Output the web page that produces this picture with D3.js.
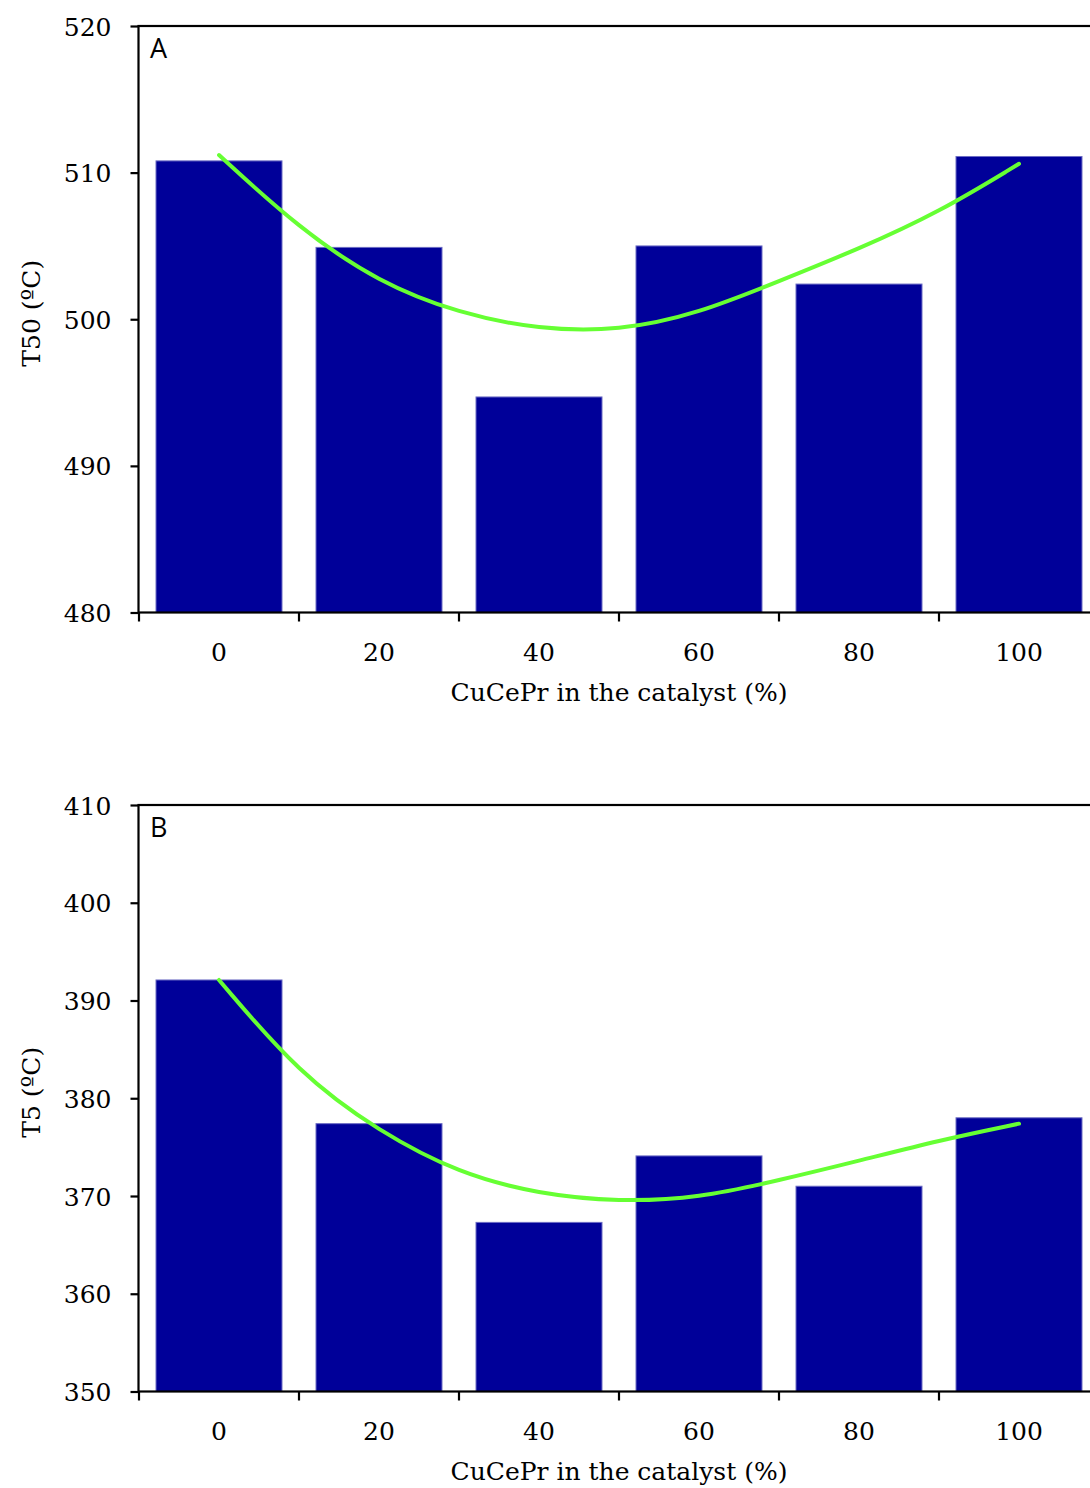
<!DOCTYPE html>
<html>
<head>
<meta charset="utf-8">
<script src="https://cdn.jsdelivr.net/npm/d3@7"></script>
<style>
  body { margin: 0; background: #fff; }
  svg text { fill: #000; }
  .tick-label { font-family: "DejaVu Serif", serif; font-size: 25px; }
  .axis-title { font-family: "DejaVu Serif", serif; font-size: 25px; }
  .panel-letter { font-family: "Open Sans", "Liberation Sans", sans-serif; font-size: 27px; }
</style>
</head>
<body>
<div id="chart"></div>
<script>
// Data
const categories = ["0", "20", "40", "60", "80", "100"];
const t50Values = [510.8, 504.9, 494.7, 505.0, 502.4, 511.1];
const t5Values = [392.1, 377.4, 367.3, 374.1, 371.0, 378.0];

// trend lines (polynomial fit in the original), read at every 10 %
const trendX = [0, 10, 20, 30, 40, 50, 60, 70, 80, 90, 100];
const t50Trend = [511.2, 506.2, 502.5, 500.4, 499.3, 499.2, 500.4, 502.6, 504.8, 507.3, 510.6];
const t5Trend = [392.1, 382.5, 376.6, 372.3, 370.2, 369.4, 369.8, 371.6, 373.6, 375.7, 377.4];

const t50Ticks = [480, 490, 500, 510, 520];
const t5Ticks = [350, 360, 370, 380, 390, 400, 410];

// Layout
const width = 1090, height = 1488;
const plotLeft = 139, plotRight = 1099;
const plotHeight = 586.5;

const svg = d3.select("#chart")
    .append("svg")
    .attr("width", width)
    .attr("height", height);

const x = d3.scaleBand()
    .domain(categories)
    .range([plotLeft, plotRight])
    .paddingInner(0.2125)
    .paddingOuter(0.10625);

// maps the 0-100 % scale onto the band centres for the trend line
const xTrend = d3.scaleLinear()
    .domain([0, 100])
    .range([x("0") + x.bandwidth() / 2, x("100") + x.bandwidth() / 2]);

function drawPanel(top, values, trend, ticks, yTitle, letter) {
    const g = svg.append("g");

    const y = d3.scaleLinear()
        .domain([ticks[0], ticks[ticks.length - 1]])
        .range([top + plotHeight, top]);

    // bars
    g.selectAll(".bar")
        .data(values)
        .enter()
        .append("rect")
        .attr("class", "bar")
        .attr("x", (d, i) => x(categories[i]))
        .attr("width", x.bandwidth())
        .attr("y", d => y(d))
        .attr("height", d => y(ticks[0]) - y(d))
        .style("fill", "#000099")
        .style("stroke", "#6c6cc4")
        .style("stroke-width", 1);

    // trend line, smoothed through the points
    const line = d3.line()
        .x((d, i) => xTrend(trendX[i]))
        .y(d => y(d))
        .curve(d3.curveBasis);

    g.append("path")
        .datum(trend)
        .attr("d", line)
        .style("fill", "none")
        .style("stroke", "#66ff33")
        .style("stroke-width", 4)
        .style("stroke-linecap", "round");

    // plot frame (right edge falls outside the window)
    g.append("rect")
        .attr("x", plotLeft - 0.5)
        .attr("y", top)
        .attr("width", plotRight - plotLeft + 0.5)
        .attr("height", plotHeight)
        .style("fill", "none")
        .style("stroke", "#000")
        .style("stroke-width", 2.2);

    // y axis
    const yAxis = d3.axisLeft(y)
        .tickValues(ticks)
        .tickSize(8)
        .tickPadding(19)
        .tickFormat(d3.format("d"));

    const yAxisG = g.append("g")
        .attr("transform", `translate(${plotLeft - 0.5},0)`)
        .call(yAxis);
    yAxisG.select(".domain").remove();
    yAxisG.selectAll(".tick line").style("stroke", "#000").style("stroke-width", 2.2);
    yAxisG.selectAll(".tick text")
        .attr("class", "tick-label")
        .attr("dy", "0.36em");
    yAxisG.attr("font-size", null).attr("font-family", null);

    // x axis: ticks sit at the band boundaries, labels at the centres
    const bottom = top + plotHeight;
    const boundaries = categories.map(c => x(c) - x.step() * x.paddingInner() / 2);
    g.selectAll(".x-tick")
        .data(boundaries)
        .enter()
        .append("line")
        .attr("class", "x-tick")
        .attr("x1", d => d)
        .attr("x2", d => d)
        .attr("y1", bottom)
        .attr("y2", bottom + 9)
        .style("stroke", "#000")
        .style("stroke-width", 2.2);

    g.selectAll(".x-label")
        .data(categories)
        .enter()
        .append("text")
        .attr("class", "tick-label")
        .attr("x", d => x(d) + x.bandwidth() / 2)
        .attr("y", bottom + 48)
        .attr("text-anchor", "middle")
        .text(d => d);

    g.append("text")
        .attr("class", "axis-title")
        .attr("x", (plotLeft + plotRight) / 2)
        .attr("y", bottom + 88)
        .attr("text-anchor", "middle")
        .text("CuCePr in the catalyst (%)");

    g.append("text")
        .attr("class", "axis-title")
        .attr("transform", `translate(40,${top + plotHeight / 2 - 6}) rotate(-90)`)
        .attr("text-anchor", "middle")
        .text(yTitle);

    g.append("text")
        .attr("class", "panel-letter")
        .attr("x", 150)
        .attr("y", top + 32)
        .text(letter);
}

drawPanel(26, t50Values, t50Trend, t50Ticks, "T50 (ºC)", "A");
drawPanel(805, t5Values, t5Trend, t5Ticks, "T5 (ºC)", "B");
</script>
</body>
</html>
